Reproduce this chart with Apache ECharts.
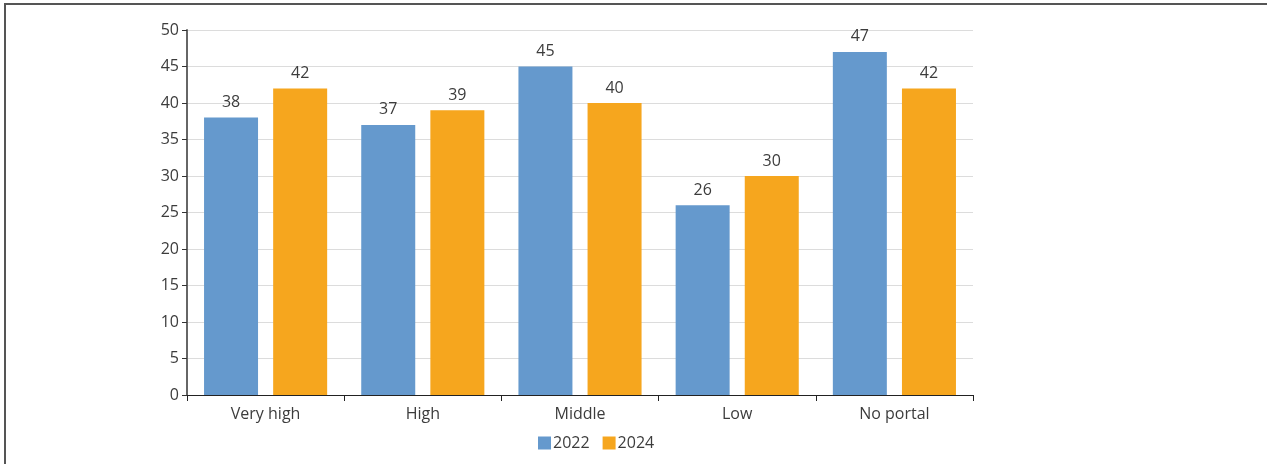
<!DOCTYPE html>
<html>
<head>
<meta charset="utf-8">
<script src="https://cdn.jsdelivr.net/npm/echarts@6/dist/echarts.min.js"></script>
<style>
  html, body { margin: 0; padding: 0; background: #fff; }
  #frame { position: absolute; left: 4px; top: 3px; width: 1263px; height: 461px;
           border-top: 2px solid #555; border-left: 2px solid #555; box-sizing: border-box; }
  #chart { position: absolute; left: 0; top: 0; width: 1267px; height: 464px; }
</style>
</head>
<body>
<div id="frame"></div>
<div id="chart"></div>
<script>
const categories = ['Very high', 'High', 'Middle', 'Low', 'No portal'];
const values2022 = [38, 37, 45, 26, 47];
const values2024 = [42, 39, 40, 30, 42];
const seriesNames = ['2022', '2024'];

const FONT = '"Open Sans", "Noto Sans", sans-serif';
const TEXT = '#3c3c3c';
const FS = 16;

const chart = echarts.init(document.getElementById('chart'), null, { renderer: 'canvas' });

const labelStyle = {
  show: true, position: 'top', distance: 7,
  color: TEXT, fontFamily: FONT, fontSize: FS
};

chart.setOption({
  animation: false,
  grid: { left: 187, right: 294, top: 30, bottom: 69, containLabel: false },
  legend: {
    top: 430, left: 533, itemWidth: 13, itemHeight: 13, itemGap: 13,
    icon: 'rect',
    textStyle: { color: TEXT, fontFamily: FONT, fontSize: FS, padding: [0, 0, 0, -3] },
    data: seriesNames
  },
  xAxis: {
    type: 'category', data: categories,
    axisLine: { lineStyle: { color: '#222', width: 1 } },
    axisTick: { show: true, length: 6, lineStyle: { color: '#222' } },
    axisLabel: { color: TEXT, fontFamily: FONT, fontSize: FS, margin: 11 }
  },
  yAxis: {
    type: 'value', min: 0, max: 50, interval: 5,
    axisLine: { show: true, lineStyle: { color: '#666', width: 2 } },
    axisTick: { show: true, length: 5, lineStyle: { color: '#333' } },
    axisLabel: { color: TEXT, fontFamily: FONT, fontSize: FS, margin: 8 },
    splitLine: { lineStyle: { color: '#dcdcdc', width: 1 } }
  },
  series: [
    { name: seriesNames[0], type: 'bar', data: values2022, barWidth: 54, barGap: '28%',
      itemStyle: { color: '#6599cd' }, label: labelStyle },
    { name: seriesNames[1], type: 'bar', data: values2024, barWidth: 54,
      itemStyle: { color: '#f6a61e' }, label: labelStyle }
  ]
});
</script>
</body>
</html>
